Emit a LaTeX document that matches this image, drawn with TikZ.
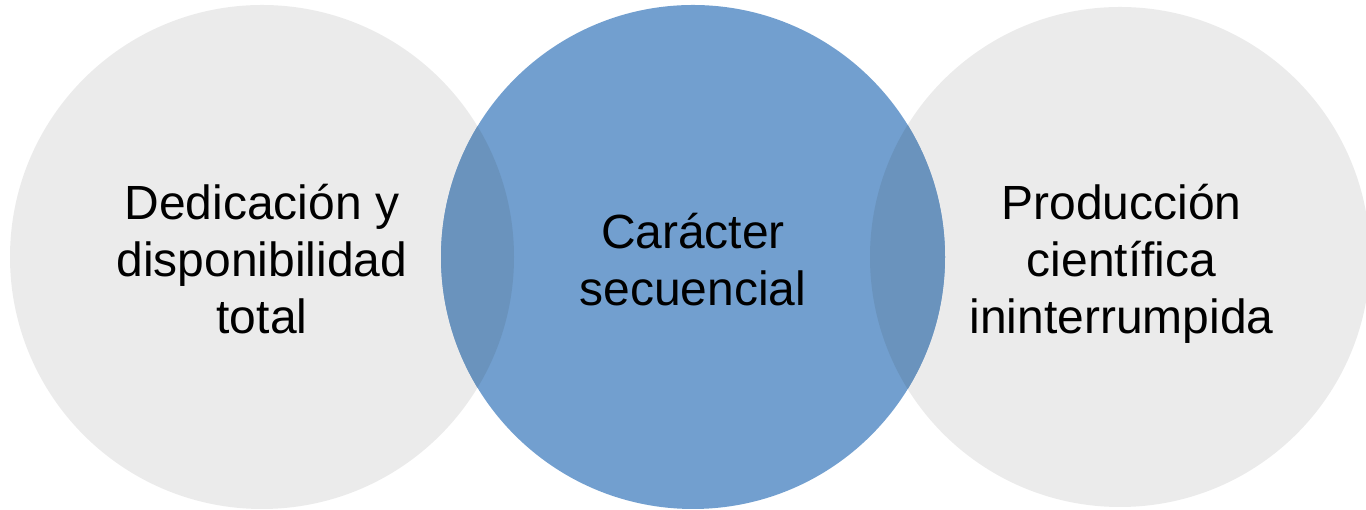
\documentclass[tikz,border=0pt]{standalone}
\usepackage{fontspec}
\setmainfont{Liberation Sans}
\usepackage{tikz}

\definecolor{circlegray}{HTML}{EBEBEB}
\definecolor{circleblue}{HTML}{729FCF}
\definecolor{overlapblue}{HTML}{6A93BD}

\begin{document}
\begin{tikzpicture}[
    ring/.style={circle,minimum size=10.08cm,inner sep=0pt,align=center,
      font=\fontsize{27.3}{32.4}\selectfont},
    side/.style={ring,fill=circlegray},
    centre/.style={ring,fill=circleblue}]
      \useasboundingbox (0,0) rectangle (27.32,10.2);
      \node[side] (dedic) at (5.24,5.06) {};
      \node[side,minimum size=10cm] (prod) at (22.4,5.06) {};
      \node[centre] (caract) at (13.86,5.06) {};
      % darker lens where the middle circle covers the side ones
      \begin{scope}
        \clip (caract.center) circle (5.04cm);
        \fill[overlapblue] (dedic.center) circle (5.04cm);
        \fill[overlapblue] (prod.center) circle (5cm);
      \end{scope}
      \node[ring,yshift=-0.05cm] (dedictext) at (dedic.center) {Dedicación y\\disponibilidad\\total};
      \node[ring,yshift=-0.06cm] (caracttext) at (caract.center) {Carácter\\secuencial};
      \node[ring,yshift=-0.14cm,xshift=0.03cm] (prodtext) at (prod.center) {Producción\\científica\\ininterrumpida};
    \end{tikzpicture}
\end{document}
